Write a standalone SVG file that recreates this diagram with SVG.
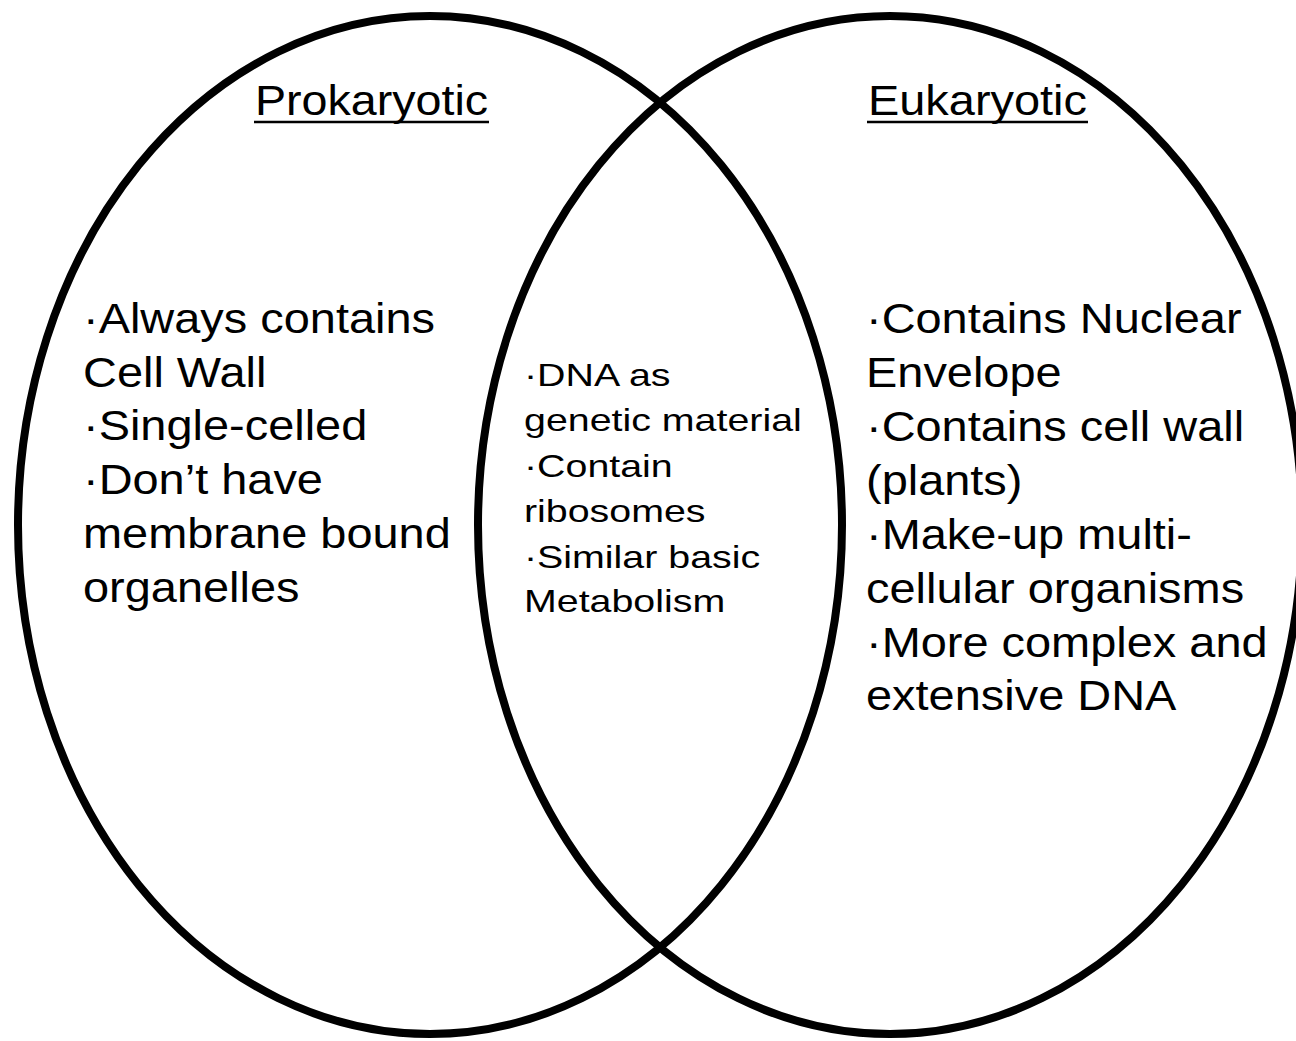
<svg xmlns="http://www.w3.org/2000/svg" width="1296" height="1041" viewBox="0 0 1296 1041">
<style>
.ring{fill:none;stroke:#000;stroke-width:8}
.big{font-family:"Liberation Sans",Arial,sans-serif;font-size:43.3px;fill:#000}
.mid{font-family:"Liberation Sans",Arial,sans-serif;font-size:32px;fill:#000}
.ttl{font-family:"Liberation Sans",Arial,sans-serif;font-size:42px;fill:#000}
.ul{stroke:#000;stroke-width:2.5}
</style>
<rect width="1296" height="1041" fill="#fff"/>
<g id="circles">
<ellipse id="left-circle" class="ring" cx="430" cy="525" rx="412" ry="509"/>
<ellipse id="right-circle" class="ring" cx="890" cy="525" rx="412" ry="509"/>
</g>
<g id="title-prokaryotic">
<text class="ttl" transform="translate(255,115) scale(1.11,1)" x="0" y="0">Prokaryotic</text>
<line class="ul" x1="254" y1="122" x2="489" y2="122"/>
</g>
<g id="title-eukaryotic">
<text class="ttl" transform="translate(868,115) scale(1.117,1)" x="0" y="0">Eukaryotic</text>
<line class="ul" x1="867" y1="122" x2="1088" y2="122"/>
</g>
<g id="prokaryotic-list" transform="translate(83,0) scale(1.084,1)">
<text class="big" x="0" y="333">·Always contains</text>
<text class="big" x="0" y="387">Cell Wall</text>
<text class="big" x="0" y="440">·Single-celled</text>
<text class="big" x="0" y="494">·Don’t have</text>
<text class="big" x="0" y="548">membrane bound</text>
<text class="big" x="0" y="602">organelles</text>
</g>
<g id="shared-list" transform="translate(524,0) scale(1.23,1)">
<text class="mid" x="0" y="386">·DNA as</text>
<text class="mid" x="0" y="431">genetic material</text>
<text class="mid" x="0" y="477">·Contain</text>
<text class="mid" x="0" y="522">ribosomes</text>
<text class="mid" x="0" y="568">·Similar basic</text>
<text class="mid" x="0" y="612">Metabolism</text>
</g>
<g id="eukaryotic-list" transform="translate(866,0) scale(1.084,1)">
<text class="big" x="0" y="333">·Contains Nuclear</text>
<text class="big" x="0" y="387">Envelope</text>
<text class="big" x="0" y="441">·Contains cell wall</text>
<text class="big" x="0" y="495">(plants)</text>
<text class="big" x="0" y="549">·Make-up multi-</text>
<text class="big" x="0" y="603">cellular organisms</text>
<text class="big" x="0" y="657">·More complex and</text>
<text class="big" x="0" y="710">extensive DNA</text>
</g>
</svg>
